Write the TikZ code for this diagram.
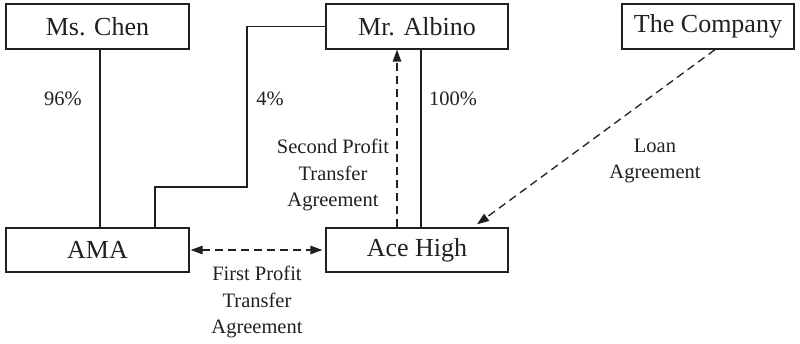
\documentclass[tikz,border=0pt]{standalone}
\usepackage{fontspec}
\setmainfont{Liberation Serif}
\usetikzlibrary{arrows.meta}
\definecolor{ink}{HTML}{231F20}
\tikzset{
  box/.style={draw=ink, line width=1.3pt, text=ink, minimum height=45pt, inner sep=0pt, font=\fontsize{26}{30}\selectfont},
  lbl/.style={text=ink, align=center, inner sep=0pt, font=\fontsize{20.5}{26.5}\selectfont},
  own/.style={draw=ink, line width=1.3pt},
  agr/.style={draw=ink, line width=1.3pt, dash pattern=on 8pt off 5pt},
  tip/.style={-{Triangle[length=12pt,width=8.5pt]}},
  tips/.style={{Triangle[length=12pt,width=8.5pt]}-{Triangle[length=12pt,width=8.5pt]}}
}
\begin{document}
\begin{tikzpicture}[x=1pt,y=-1pt]
\useasboundingbox (0,0) rectangle (800,344);
\node[box, minimum width=183pt] (chen) at (97.5,26.5) {Ms. Chen};
\node[box, minimum width=182pt] (albino) at (417,26.5) {Mr. Albino};
\node[box, minimum width=172pt] (company) at (708,26.5) {The Company};
\node[box, minimum width=183pt, minimum height=44pt] (ama) at (97.5,250) {AMA};
\node[box, minimum width=182pt, minimum height=44pt] (ace) at (417,250) {Ace High};
\coordinate (bend) at (247,187);
% ownership
\draw[own] ([xshift=2.5pt]chen.south) -- ([xshift=2.5pt]ama.north);
\draw[own] ([xshift=57.5pt]ama.north) |- (bend) |- (albino.west);
\draw[own] ([xshift=4pt]ace.north) -- ([xshift=4pt]albino.south);
% agreements
\draw[agr, tip] ([xshift=-20pt]ace.north) -- ([xshift=-20pt]albino.south);
\draw[agr, tip] ([xshift=7pt]company.south) -- ([xshift=60pt,yshift=3pt]ace.north);
\draw[agr, tips] ([xshift=1pt]ama.east) -- ([xshift=-3pt]ace.west);
% labels
\node[lbl] (p96) at (63,99) {96\%};
\node[lbl] (p4) at (270,99) {4\%};
\node[lbl] (p100) at (453,99) {100\%};
\node[lbl] (second) at (333,175) {Second Profit\\Transfer\\Agreement};
\node[lbl] (loan) at (655,161) {Loan\\Agreement};
\node[lbl] (first) at (257,302) {First Profit\\Transfer\\Agreement};
\end{tikzpicture}
\end{document}
